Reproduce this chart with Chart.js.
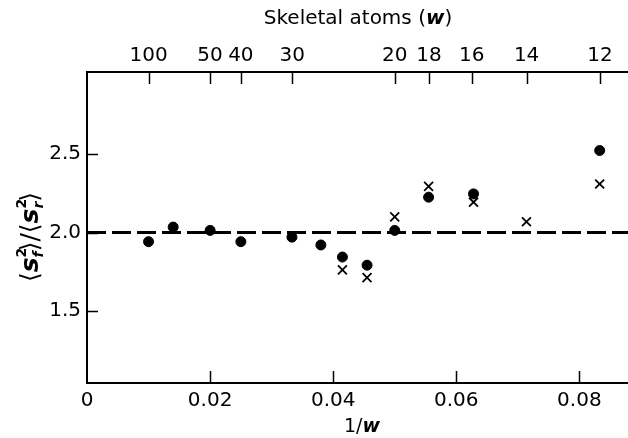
<!DOCTYPE html>
<html lang="en">
<head>
<meta charset="UTF-8">
<title>Skeletal atoms</title>
<script src="https://cdn.jsdelivr.net/npm/chart.js"></script>
<style>
  body { margin: 0; background: #fff; }
  canvas { display: block; }
</style>
</head>
<body>
<canvas id="grafico" width="628" height="438"></canvas>
<script>
// 1/w values and ratios
const circleX = [0.0100, 0.0140, 0.0200, 0.0250, 0.0333, 0.0380, 0.0415, 0.0455, 0.0500, 0.0555, 0.0628, 0.0833]
const circleY = [1.942, 2.035, 2.014, 1.942, 1.971, 1.921, 1.844, 1.792, 2.014, 2.226, 2.247, 2.524]
const crossX = [0.0415, 0.0455, 0.0500, 0.0555, 0.0628, 0.0714, 0.0833]
const crossY = [1.762, 1.713, 2.100, 2.295, 2.194, 2.069, 2.310]
const refLevel = 2.0

const xTicks = [0, 0.02, 0.04, 0.06, 0.08]
const yTicks = [1.5, 2.0, 2.5]
const topTicksW = [100, 50, 40, 30, 20, 18, 16, 14, 12]

const xMin = 0, xMax = 0.0879
const yMin = 1.04, yMax = 3.025

const fonte = 'DejaVu Sans'
Chart.defaults.font.family = fonte
Chart.defaults.color = '#000'

function pontos(xs, ys){
  return xs.map((x, i) => ({x: x, y: ys[i]}))
}

// draws a list of text pieces; piece.adv=false keeps the pen where it is (stacked sup/sub)
function desenhaTexto(ctx, pedacos, cx, cy){
  let largura = 0, pos = 0
  for (const p of pedacos){
    ctx.font = p.font
    p.w = ctx.measureText(p.t).width
    p.x = pos
    if (p.adv !== false) pos += p.w
    largura = Math.max(largura, p.x + p.w)
  }
  let x0 = cx - largura / 2
  ctx.textBaseline = 'middle'
  ctx.textAlign = 'left'
  for (const p of pedacos){
    ctx.font = p.font
    ctx.fillText(p.t, x0 + p.x, cy + (p.dy || 0))
  }
}

const titulos = {
  id: 'titulos',
  afterDraw(chart){
    const ctx = chart.ctx
    ctx.save()
    ctx.fillStyle = '#000'
    desenhaTexto(ctx, [
      {t: 'Skeletal atoms (', font: `20px "${fonte}"`},
      {t: 'w', font: `italic bold 20px "${fonte}"`},
      {t: ')', font: `20px "${fonte}"`}
    ], 358, 19)
    desenhaTexto(ctx, [
      {t: '1/', font: `19px "${fonte}"`},
      {t: 'w', font: `italic bold 19px "${fonte}"`}
    ], 362, 427)
    ctx.translate(31, 237)
    ctx.rotate(-Math.PI / 2)
    const n = `25px "${fonte}"`, s = `italic bold 25px "${fonte}"`, p = `bold 14px "${fonte}"`, pi = `italic bold 14px "${fonte}"`
    desenhaTexto(ctx, [
      {t: '\u27E8', font: n},
      {t: 's', font: s},
      {t: '2', font: p, dy: -9, adv: false},
      {t: 'f', font: pi, dy: 8},
      {t: '\u27E9/\u27E8', font: n},
      {t: 's', font: s},
      {t: '2', font: p, dy: -9, adv: false},
      {t: 'r', font: pi, dy: 8},
      {t: '\u27E9', font: n}
    ], 0, 0)
    ctx.restore()
  }
}

// ticks pointing into the plot
const tracosInternos = {
  id: 'tracosInternos',
  afterDraw(chart){
    const {ctx, chartArea: a, scales} = chart
    ctx.save()
    ctx.strokeStyle = '#000'
    ctx.lineWidth = 1.5
    ctx.beginPath()
    scales.x.ticks.forEach(t => {
      if (t.value <= xMin) return
      const px = Math.round(scales.x.getPixelForValue(t.value)) + 0.5
      ctx.moveTo(px, a.bottom); ctx.lineTo(px, a.bottom - 12)
    })
    scales.x2.ticks.forEach(t => {
      const px = Math.round(scales.x2.getPixelForValue(t.value)) + 0.5
      ctx.moveTo(px, a.top); ctx.lineTo(px, a.top + 12)
    })
    scales.y.ticks.forEach(t => {
      const py = Math.round(scales.y.getPixelForValue(t.value)) + 0.5
      ctx.moveTo(a.left, py); ctx.lineTo(a.left + 11, py)
    })
    ctx.stroke()
    ctx.restore()
  }
}

const eixo = {display: true, width: 2, color: '#000'}
const semGrade = {drawOnChartArea: false, drawTicks: false}

const grafico = new Chart(document.getElementById('grafico'), {
  type: 'scatter',
  data: {
    datasets: [
      {
        type: 'line',
        data: [{x: xMin, y: refLevel}, {x: xMax, y: refLevel}],
        borderColor: '#000',
        borderWidth: 3,
        borderDash: [19, 6],
        pointRadius: 0,
        xAxisID: 'x', yAxisID: 'y'
      },
      {
        data: pontos(circleX, circleY),
        pointStyle: 'circle',
        pointRadius: 5,
        borderWidth: 1,
        backgroundColor: '#000',
        borderColor: '#000',
        xAxisID: 'x', yAxisID: 'y'
      },
      {
        data: pontos(crossX, crossY),
        pointStyle: 'crossRot',
        pointRadius: 6.3,
        borderWidth: 1.8,
        borderColor: '#000',
        xAxisID: 'x', yAxisID: 'y'
      }
    ]
  },
  options: {
    responsive: false,
    animation: false,
    layout: {padding: 0, autoPadding: false},
    plugins: {legend: {display: false}, tooltip: {enabled: false}},
    scales: {
      x: {
        type: 'linear', position: 'bottom', min: xMin, max: xMax,
        border: eixo, grid: semGrade,
        afterBuildTicks: s => { s.ticks = xTicks.map(v => ({value: v})) },
        afterFit: s => { s.height = 55; s.paddingLeft = 0; s.paddingRight = 0 },
        ticks: {
          font: {size: 20}, padding: 6, maxRotation: 0,
          callback: v => v === 0 ? '0' : v.toFixed(2)
        }
      },
      x2: {
        type: 'linear', position: 'top', min: xMin, max: xMax,
        border: eixo, grid: semGrade,
        afterBuildTicks: s => { s.ticks = topTicksW.map(w => ({value: 1 / w})) },
        afterFit: s => { s.height = 72; s.paddingLeft = 0; s.paddingRight = 0 },
        ticks: {
          font: {size: 20}, padding: 4, maxRotation: 0,
          callback: v => String(Math.round(1 / v))
        }
      },
      y: {
        type: 'linear', position: 'left', min: yMin, max: yMax,
        border: eixo, grid: semGrade,
        afterBuildTicks: s => { s.ticks = yTicks.map(v => ({value: v})) },
        afterFit: s => { s.width = 87 },
        ticks: {
          font: {size: 20}, padding: 6,
          callback: v => v.toFixed(1)
        }
      }
    }
  },
  plugins: [titulos, tracosInternos]
})
</script>
</body>
</html>
